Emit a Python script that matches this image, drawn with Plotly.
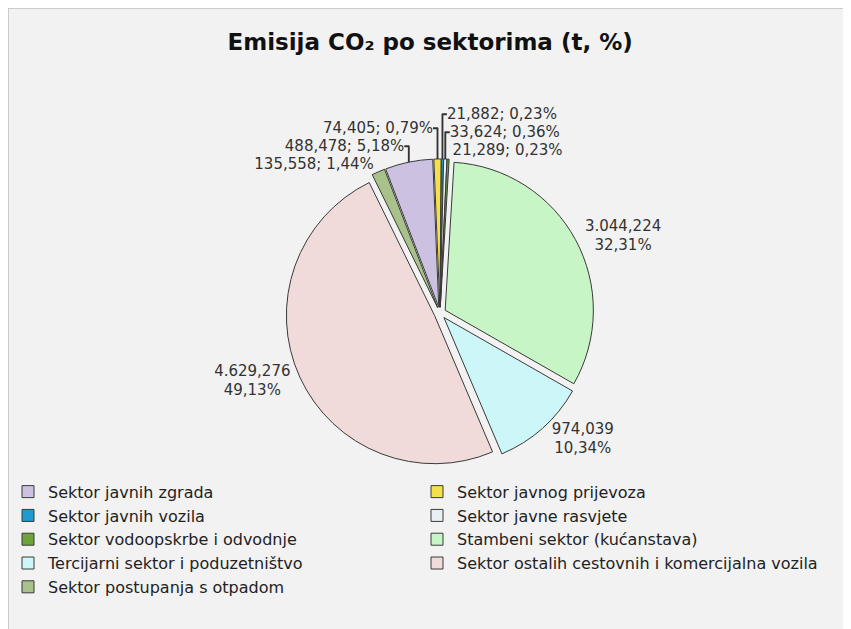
import plotly.graph_objects as go

# ---- data ----
sectors = [
    "Sektor javnih zgrada",
    "Sektor javnog prijevoza",
    "Sektor javnih vozila",
    "Sektor javne rasvjete",
    "Sektor vodoopskrbe i odvodnje",
    "Stambeni sektor (kućanstava)",
    "Tercijarni sektor i poduzetništvo",
    "Sektor ostalih cestovnih i komercijalna vozila",
    "Sektor postupanja s otpadom",
]
emissions_t = [488.478, 74.405, 21.882, 33.624, 21.289, 3044.224, 974.039, 4629.276, 135.558]
colors = ["#ccc1e0", "#f4e04a", "#1f9bd2", "#e8f0f4", "#6fa23a",
          "#c8f5c6", "#cdf6f8", "#f0dada", "#a9c28c"]

total = sum(emissions_t)


def hr_num(v, dec=3):
    s = f"{v:,.{dec}f}"
    return s.replace(",", "X").replace(".", ",").replace("X", ".")


labels_txt = []
for v in emissions_t:
    pct = hr_num(v / total * 100, 2) + "%"
    num = hr_num(v, 3)
    sep = "<br>" if v > 500 else "; "
    labels_txt.append(num + sep + pct)

fig = go.Figure()
fig.add_trace(go.Pie(
    labels=sectors,
    values=emissions_t,
    text=labels_txt,
    textinfo="text",
    textposition="outside",
    sort=False,
    direction="clockwise",
    rotation=-21,
    pull=[0.04] * len(sectors),
    marker=dict(colors=colors, line=dict(color="#3a3a3a", width=1)),
    textfont=dict(family="DejaVu Sans", size=15, color="#333333"),
    domain=dict(x=[0.0926, 0.9226], y=[0.27, 0.76]),
    hoverinfo="label+value+percent",
))

fig.update_layout(
    width=851,
    height=629,
    margin=dict(l=0, r=0, t=0, b=0, autoexpand=False),
    paper_bgcolor="white",
    title=dict(
        text="<b>Emisija CO₂ po sektorima (t, %)</b>",
        x=0.496, xanchor="center",
        y=0.946, yanchor="middle",
        font=dict(family="DejaVu Sans", size=23, color="#111111"),
    ),
    legend=dict(
        orientation="h",
        x=0.0, xanchor="left",
        y=0.258, yanchor="top",
        entrywidth=364, entrywidthmode="pixels",
        font=dict(family="DejaVu Sans", size=16, color="#222222"),
        itemclick=False,
        traceorder="normal",
        bgcolor="rgba(0,0,0,0)",
    ),
    shapes=[dict(
        type="rect", xref="paper", yref="paper",
        x0=0, x1=1.02, y0=-0.02, y1=1,
        fillcolor="#f2f2f2", line=dict(color="#c0c0c0", width=1.5),
        layer="below",
    )],
)

fig.write_html("out.html")
